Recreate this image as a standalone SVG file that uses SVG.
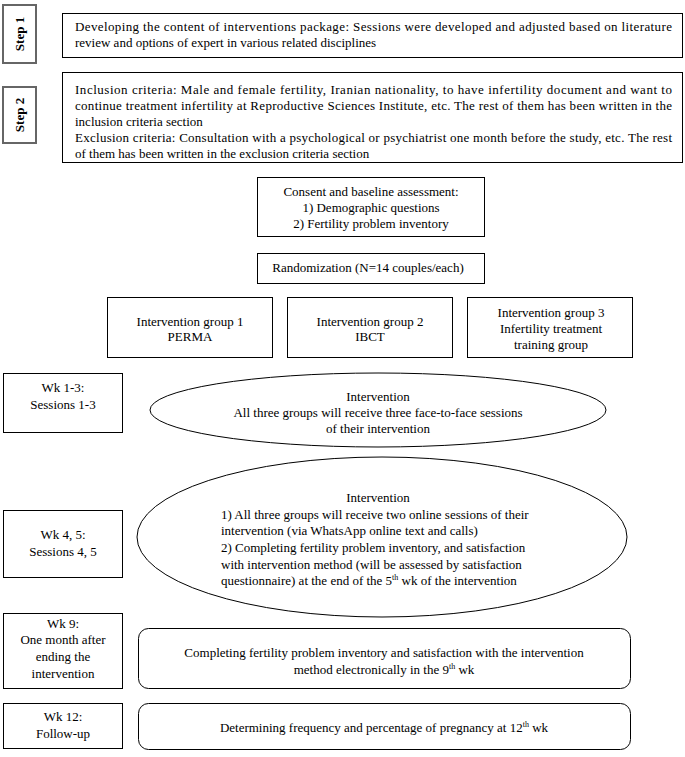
<svg xmlns="http://www.w3.org/2000/svg" width="685" height="757" viewBox="0 0 685 757">
<style>
text{font-family:"Liberation Serif","Times New Roman",serif;font-size:13px;fill:#000}
.c{text-anchor:middle}
.b{fill:#fff;stroke:#000;stroke-width:1}
.s{fill:#fff;stroke:#666;stroke-width:2}
.st{font-weight:bold;font-size:13px}
.sup{font-size:8px}
</style>
<rect width="685" height="757" fill="#fff"/>
<g id="step1">
<rect class="s" x="3" y="5" width="33" height="58"/>
<text class="c st" transform="translate(24,34) rotate(-90)">Step 1</text>
</g>
<g id="dev">
<rect class="b" x="62.5" y="13.5" width="620" height="44"/>
<text x="75" y="31" textLength="597" lengthAdjust="spacing">Developing the content of interventions package: Sessions were developed and adjusted based on literature</text>
<text x="75" y="47">review and options of expert in various related disciplines</text>
</g>
<g id="step2">
<rect class="s" x="3" y="87" width="33" height="56"/>
<text class="c st" transform="translate(24,115) rotate(-90)">Step 2</text>
</g>
<g id="criteria">
<rect class="b" x="62.5" y="72.5" width="620" height="90"/>
<text x="75" y="94" textLength="597" lengthAdjust="spacing">Inclusion criteria: Male and female fertility, Iranian nationality, to have infertility document and want to</text>
<text x="75" y="110" textLength="597" lengthAdjust="spacing">continue treatment infertility at Reproductive Sciences Institute, etc. The rest of them has been written in the</text>
<text x="75" y="126">inclusion criteria section</text>
<text x="75" y="142" textLength="597" lengthAdjust="spacing">Exclusion criteria: Consultation with a psychological or psychiatrist one month before the study, etc. The rest</text>
<text x="75" y="158">of them has been written in the exclusion criteria section</text>
</g>
<g id="consent">
<rect class="b" x="257.5" y="177.5" width="227" height="59"/>
<text class="c" x="371" y="196">Consent and baseline assessment:</text>
<text class="c" x="371" y="212">1) Demographic questions</text>
<text class="c" x="371" y="228">2) Fertility problem inventory</text>
</g>
<g id="random">
<rect class="b" x="257.5" y="253.5" width="227" height="30"/>
<text class="c" x="368" y="272">Randomization (N=14 couples/each)</text>
</g>
<g id="g1">
<rect class="b" x="107.5" y="297.5" width="165" height="60"/>
<text class="c" x="190" y="326">Intervention group 1</text>
<text class="c" x="190" y="341">PERMA</text>
</g>
<g id="g2">
<rect class="b" x="287.5" y="297.5" width="165" height="60"/>
<text class="c" x="370" y="326">Intervention group 2</text>
<text class="c" x="370" y="341">IBCT</text>
</g>
<g id="g3">
<rect class="b" x="467.5" y="297.5" width="165" height="60"/>
<text class="c" x="551" y="317">Intervention group 3</text>
<text class="c" x="551" y="333">Infertility treatment</text>
<text class="c" x="551" y="349">training group</text>
</g>
<g id="wk13">
<rect class="b" x="3.5" y="373.5" width="119" height="59"/>
<text class="c" x="63" y="392">Wk 1-3:</text>
<text class="c" x="63" y="409">Sessions 1-3</text>
</g>
<g id="int1">
<ellipse class="b" cx="378" cy="410" rx="228" ry="37"/>
<text class="c" x="378" y="401">Intervention</text>
<text class="c" x="378" y="417">All three groups will receive three face-to-face sessions</text>
<text class="c" x="378" y="433">of their intervention</text>
</g>
<g id="wk45">
<rect class="b" x="3.5" y="510.5" width="119" height="67"/>
<text class="c" x="63" y="539">Wk 4, 5:</text>
<text class="c" x="63" y="556">Sessions 4, 5</text>
</g>
<g id="int2">
<ellipse class="b" cx="382" cy="537" rx="245" ry="80"/>
<text class="c" x="378" y="502">Intervention</text>
<text x="221" y="519">1) All three groups will receive two online sessions of their</text>
<text x="221" y="535">intervention (via WhatsApp online text and calls)</text>
<text x="221" y="552">2) Completing fertility problem inventory, and satisfaction</text>
<text x="221" y="569">with intervention method (will be assessed by satisfaction</text>
<text x="221" y="585">questionnaire) at the end of the 5<tspan class="sup" dy="-5">th</tspan><tspan dy="5"> wk of the intervention</tspan></text>
</g>
<g id="wk9">
<rect class="b" x="3.5" y="613.5" width="119" height="75"/>
<text class="c" x="63" y="628">Wk 9:</text>
<text class="c" x="63" y="644">One month after</text>
<text class="c" x="63" y="661">ending the</text>
<text class="c" x="63" y="678">intervention</text>
</g>
<g id="complete">
<rect class="b" x="138.5" y="628.5" width="492" height="60" rx="10"/>
<text class="c" x="384" y="657">Completing fertility problem inventory and satisfaction with the intervention</text>
<text class="c" x="384" y="674">method electronically in the 9<tspan class="sup" dy="-5">th</tspan><tspan dy="5"> wk</tspan></text>
</g>
<g id="wk12">
<rect class="b" x="3.5" y="703.5" width="119" height="45"/>
<text class="c" x="63" y="721">Wk 12:</text>
<text class="c" x="63" y="738">Follow-up</text>
</g>
<g id="preg">
<rect class="b" x="138.5" y="703.5" width="492" height="46" rx="10"/>
<text class="c" x="384" y="732">Determining frequency and percentage of pregnancy at 12<tspan class="sup" dy="-5">th</tspan><tspan dy="5"> wk</tspan></text>
</g>
<g id="connectors"></g>
</svg>
